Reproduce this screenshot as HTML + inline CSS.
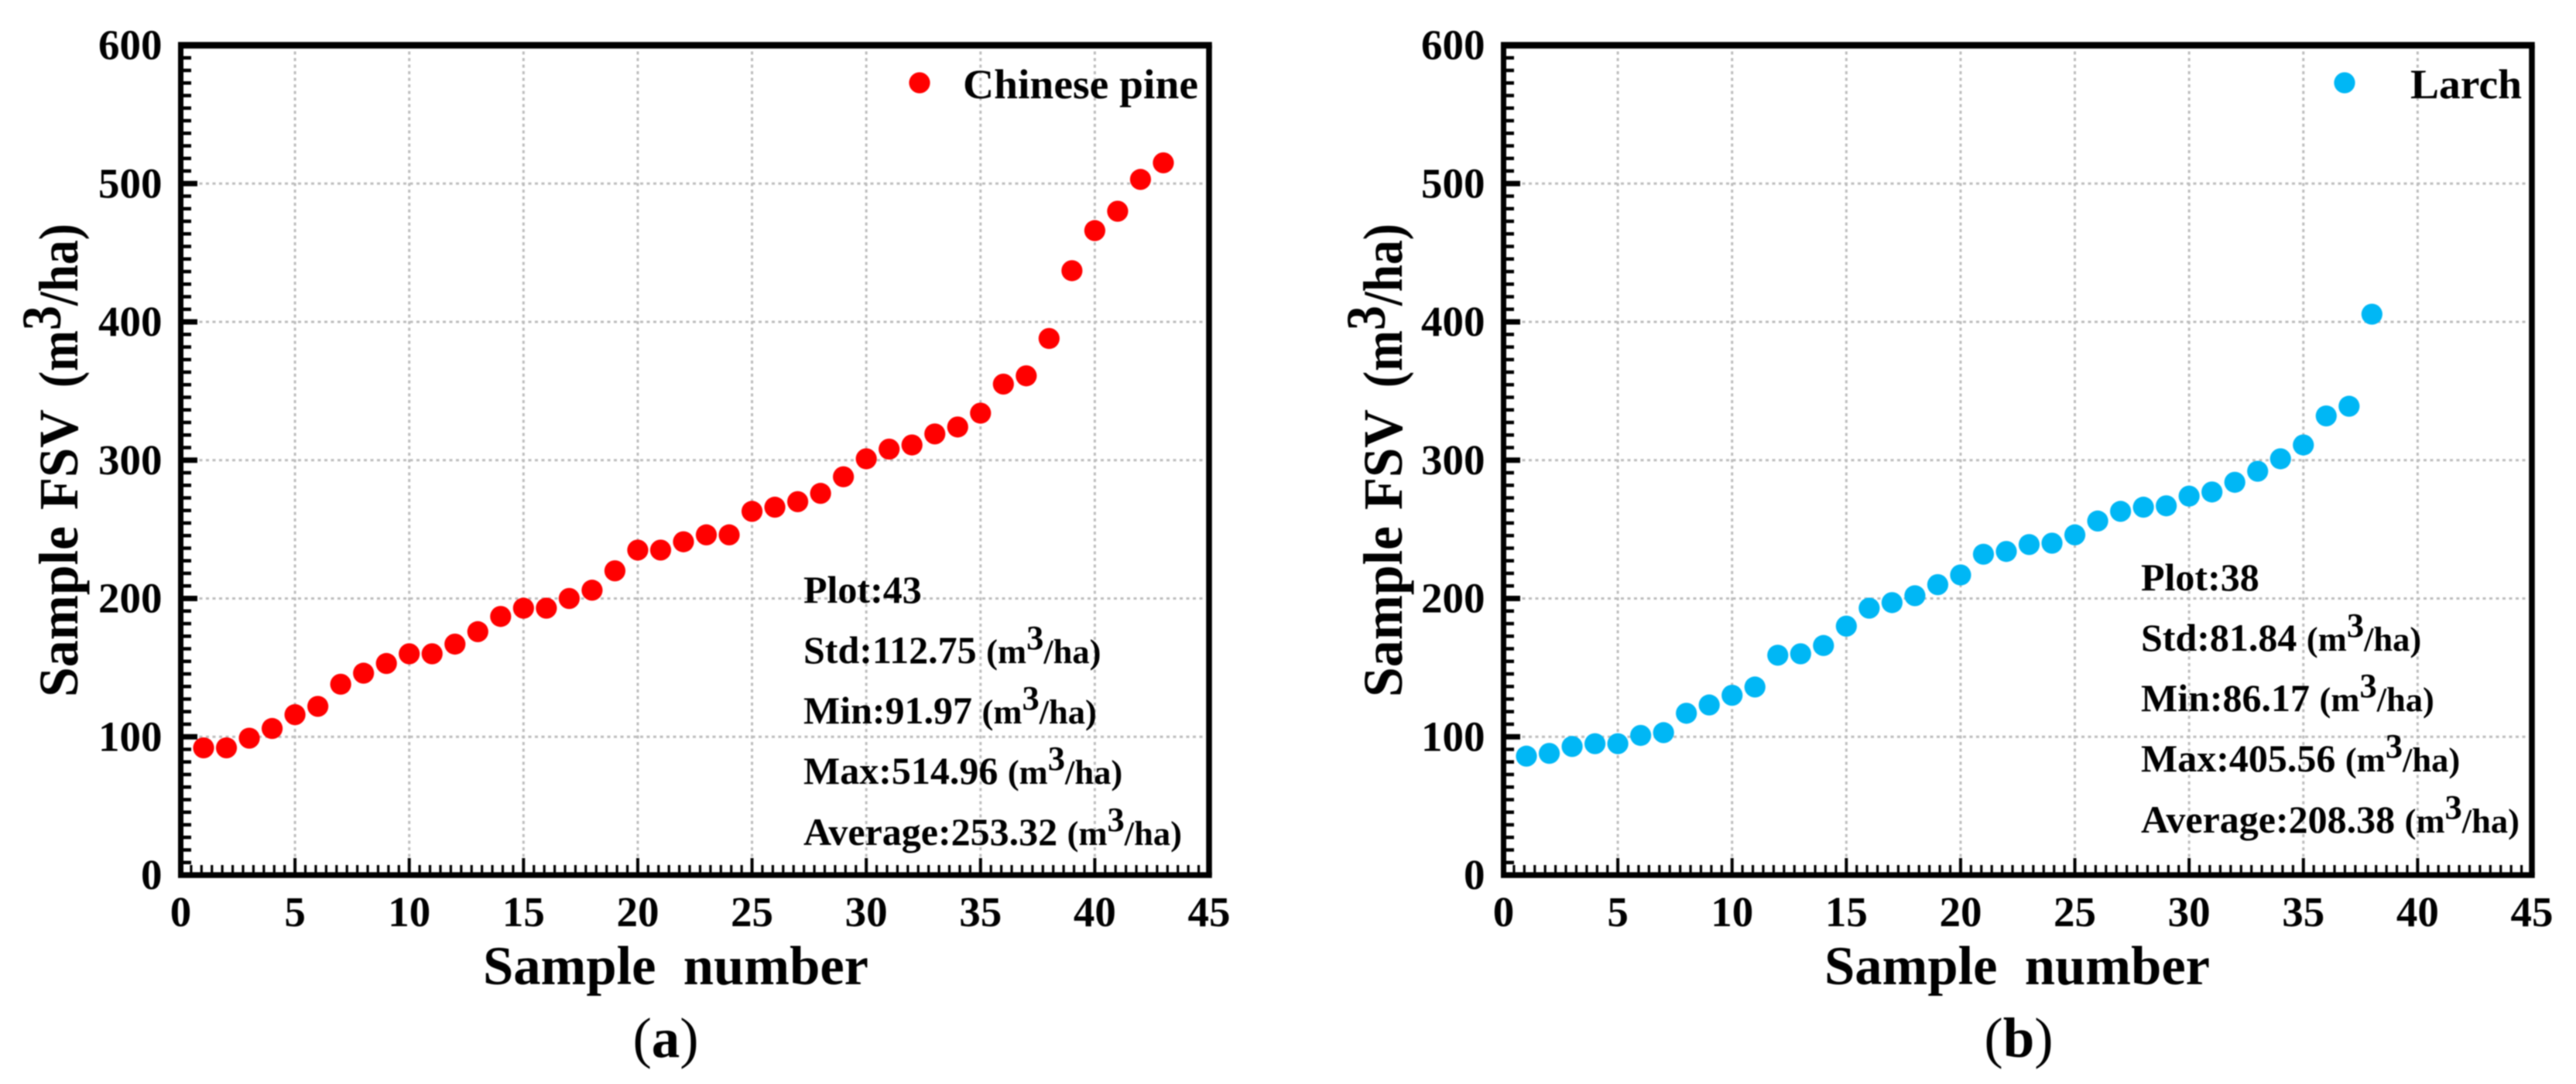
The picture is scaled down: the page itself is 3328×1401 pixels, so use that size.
<!DOCTYPE html>
<html lang="en">
<head>
<meta charset="utf-8">
<title>Sample FSV by species</title>
<style>
  html, body { margin: 0; padding: 0; background: #fff; }
  svg { display: block; filter: blur(0.7px); }
  text { font-family: "Liberation Serif", serif; font-weight: bold; fill: #000; }
  .tick { font-size: 55px; }
  .title { font-size: 71px; }
  .ytitle { font-size: 72px; }
  .stat { font-size: 50px; }
  .unit { font-size: 44.5px; }
  .legend { font-size: 54px; }
  .panel { font-size: 73px; }
</style>
</head>
<body>
<svg id="figure" xmlns="http://www.w3.org/2000/svg" width="3328" height="1401" viewBox="0 0 3328 1401">
  <rect width="3328" height="1401" fill="#fff"/>

  <g id="panel-a"></g>
  <g id="panel-b"></g>

  <!-- Panel (a) text -->
  <text class="title" x="624" y="1272" textLength="498" lengthAdjust="spacingAndGlyphs" xml:space="preserve">Sample  number</text>
  <g transform="translate(100 901) rotate(-90)">
    <text class="ytitle" x="0" y="0" textLength="221" lengthAdjust="spacingAndGlyphs">Sample</text>
    <text class="ytitle" x="242" y="0" textLength="130" lengthAdjust="spacingAndGlyphs">FSV</text>
    <text class="ytitle" x="400" y="0" textLength="212" lengthAdjust="spacingAndGlyphs">(m<tspan dy="-22">3</tspan><tspan dy="22">/ha)</tspan></text>
  </g>
  <text class="legend" x="1244" y="127" textLength="304" lengthAdjust="spacingAndGlyphs">Chinese pine</text>
  <text class="stat" x="1038" y="779">Plot:43</text>
  <text class="stat" x="1038" y="857" xml:space="preserve">Std:112.75 <tspan class="unit">(m<tspan dy="-18">3</tspan><tspan dy="18">/ha)</tspan></tspan></text>
  <text class="stat" x="1038" y="935" xml:space="preserve">Min:91.97 <tspan class="unit">(m<tspan dy="-18">3</tspan><tspan dy="18">/ha)</tspan></tspan></text>
  <text class="stat" x="1038" y="1013" xml:space="preserve">Max:514.96 <tspan class="unit">(m<tspan dy="-18">3</tspan><tspan dy="18">/ha)</tspan></tspan></text>
  <text class="stat" x="1038" y="1092" xml:space="preserve">Average:253.32 <tspan class="unit">(m<tspan dy="-18">3</tspan><tspan dy="18">/ha)</tspan></tspan></text>
  <text class="panel" x="860" y="1366" text-anchor="middle" style="font-weight:normal">(<tspan style="font-weight:bold">a</tspan>)</text>

  <!-- Panel (b) text -->
  <text class="title" x="2357" y="1272" textLength="498" lengthAdjust="spacingAndGlyphs" xml:space="preserve">Sample  number</text>
  <g transform="translate(1811 901) rotate(-90)">
    <text class="ytitle" x="0" y="0" textLength="221" lengthAdjust="spacingAndGlyphs">Sample</text>
    <text class="ytitle" x="242" y="0" textLength="130" lengthAdjust="spacingAndGlyphs">FSV</text>
    <text class="ytitle" x="400" y="0" textLength="212" lengthAdjust="spacingAndGlyphs">(m<tspan dy="-22">3</tspan><tspan dy="22">/ha)</tspan></text>
  </g>
  <text class="legend" x="3114" y="127" textLength="144" lengthAdjust="spacingAndGlyphs">Larch</text>
  <text class="stat" x="2766" y="763">Plot:38</text>
  <text class="stat" x="2766" y="841" xml:space="preserve">Std:81.84 <tspan class="unit">(m<tspan dy="-18">3</tspan><tspan dy="18">/ha)</tspan></tspan></text>
  <text class="stat" x="2766" y="919" xml:space="preserve">Min:86.17 <tspan class="unit">(m<tspan dy="-18">3</tspan><tspan dy="18">/ha)</tspan></tspan></text>
  <text class="stat" x="2766" y="997" xml:space="preserve">Max:405.56 <tspan class="unit">(m<tspan dy="-18">3</tspan><tspan dy="18">/ha)</tspan></tspan></text>
  <text class="stat" x="2766" y="1076" xml:space="preserve">Average:208.38 <tspan class="unit">(m<tspan dy="-18">3</tspan><tspan dy="18">/ha)</tspan></tspan></text>
  <text class="panel" x="2608" y="1366" text-anchor="middle" style="font-weight:normal">(<tspan style="font-weight:bold">b</tspan>)</text>
</svg>

<script>
const xTickLabels = [0, 5, 10, 15, 20, 25, 30, 35, 40, 45];
const yTickLabels = [0, 100, 200, 300, 400, 500, 600];
const chinesePineValues = [92, 92, 99, 106, 116, 122, 138, 146, 153, 160, 160, 167, 176, 187, 193, 193, 200, 206, 220, 235, 235, 241, 246, 246, 263, 266, 270, 276, 288, 301, 308, 311, 319, 324, 334, 355, 361, 388, 437, 466, 480, 503, 515];
const larchValues = [86, 88, 93, 95, 95, 101, 103, 117, 123, 130, 136, 159, 160, 166, 180, 193, 197, 202, 210, 217, 232, 234, 239, 240, 246, 256, 263, 266, 267, 274, 277, 284, 292, 301, 311, 332, 339, 405.56];

const SVG_NS = 'http://www.w3.org/2000/svg';
const X_MAX = 45, Y_MAX = 600;
const PLOT_WIDTH = 1328.5, PLOT_TOP = 58.5, PLOT_BOTTOM = 1131;
const MINOR_INTERVALS = 11;
const GRID_COLOR = '#bdbdbd';

function make(parent, tag, attrs) {
  const el = document.createElementNS(SVG_NS, tag);
  for (const k in attrs) el.setAttribute(k, attrs[k]);
  parent.appendChild(el);
  return el;
}

function drawPanel(groupId, left, values, color, legendDotX) {
  const g = document.getElementById(groupId);
  const xScale = v => left + (v / X_MAX) * PLOT_WIDTH;
  const yScale = v => PLOT_BOTTOM - (v / Y_MAX) * (PLOT_BOTTOM - PLOT_TOP);
  const right = xScale(X_MAX);

  // Grid
  xTickLabels.slice(1, -1).forEach(t => {
    const el = make(g, 'line', { x1: xScale(t), x2: xScale(t), y1: PLOT_TOP + 8, y2: PLOT_BOTTOM - 22, stroke: GRID_COLOR, 'stroke-width': 3, 'stroke-dasharray': '4 4.5' });
    
    
  });
  yTickLabels.slice(1, -1).forEach(t => {
    const el = make(g, 'line', { x1: left + 24, x2: right - 5, y1: yScale(t), y2: yScale(t), stroke: GRID_COLOR, 'stroke-width': 3, 'stroke-dasharray': '4 4.5' });
    
    
  });

  // Minor + major ticks, x axis
  for (let i = 0; i < xTickLabels.length - 1; i++) {
    const a = xTickLabels[i], b = xTickLabels[i + 1];
    for (let j = 1; j < MINOR_INTERVALS; j++) {
      const x = xScale(a + (b - a) * j / MINOR_INTERVALS);
      const el = make(g, 'line', { x1: x, x2: x, y1: PLOT_BOTTOM - 13, y2: PLOT_BOTTOM, stroke: '#000', 'stroke-width': 3.2 });
      
      
    }
  }
  xTickLabels.forEach(t => {
    const x = xScale(t);
    const tick = make(g, 'line', { x1: x, x2: x, y1: PLOT_BOTTOM - 22, y2: PLOT_BOTTOM, stroke: '#000', 'stroke-width': 4 });
    
    
    const label = make(g, 'text', { class: 'tick', x: x, y: 1197, 'text-anchor': 'middle' });
    label.textContent = t;
    
    
  });

  // Minor + major ticks, y axis
  for (let i = 0; i < yTickLabels.length - 1; i++) {
    const a = yTickLabels[i], b = yTickLabels[i + 1];
    for (let j = 1; j < MINOR_INTERVALS; j++) {
      const y = yScale(a + (b - a) * j / MINOR_INTERVALS);
      const el = make(g, 'line', { x1: left, x2: left + 13.5, y1: y, y2: y, stroke: '#000', 'stroke-width': 4.5 });
      
      
    }
  }
  yTickLabels.forEach(t => {
    const y = yScale(t);
    const tick = make(g, 'line', { x1: left, x2: left + 21.5, y1: y, y2: y, stroke: '#000', 'stroke-width': 7 });
    
    
    const label = make(g, 'text', { class: 'tick', x: left - 24, y: y + 18, 'text-anchor': 'end' });
    label.textContent = t;
    
    
  });

  // Frame
  const leftAxis = make(g, 'line', { x1: left, x2: left, y1: PLOT_TOP, y2: PLOT_BOTTOM, stroke: '#000', 'stroke-width': 7 });
  
  
  const rightAxis = make(g, 'line', { x1: right, x2: right, y1: PLOT_TOP, y2: PLOT_BOTTOM, stroke: '#000', 'stroke-width': 7.5 });
  
  
  const topAxis = make(g, 'line', { x1: left - 3.5, x2: right + 3.75, y1: PLOT_TOP, y2: PLOT_TOP, stroke: '#000', 'stroke-width': 8.5 });
  
  
  const bottomAxis = make(g, 'line', { x1: left - 3.5, x2: right + 3.75, y1: PLOT_BOTTOM, y2: PLOT_BOTTOM, stroke: '#000', 'stroke-width': 7.5 });
  
  

  // Points
  values.forEach((v, i) => {
    const pt = make(g, 'circle', { cx: xScale(i + 1), cy: yScale(v), r: 13.6, fill: color });
    
    
  });

  // Legend marker
  const dot = make(g, 'circle', { cx: legendDotX, cy: 107, r: 13.6, fill: color });
  
  
}

drawPanel('panel-a', 233.5, chinesePineValues, '#ff0000', 1188);
drawPanel('panel-b', 1942.5, larchValues, '#00b7f5', 3029);
</script>
</body>
</html>
